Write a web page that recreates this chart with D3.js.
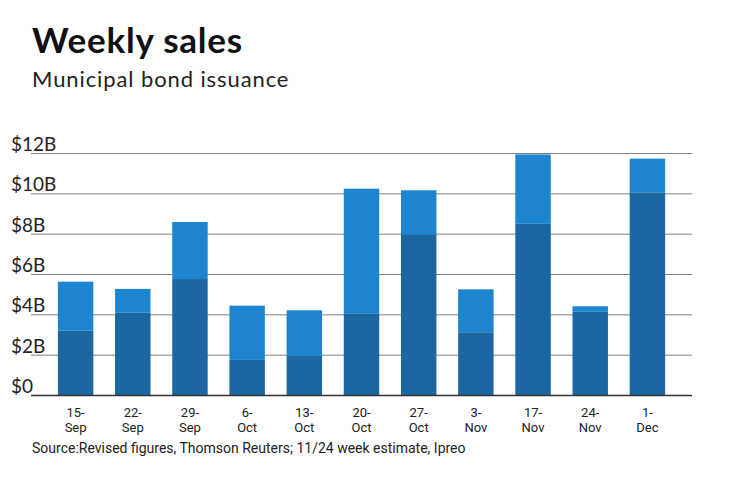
<!DOCTYPE html>
<html>
<head>
<meta charset="utf-8">
<script src="https://cdn.jsdelivr.net/npm/d3@7/dist/d3.min.js"></script>
<style>
  body { margin: 0; background: #fff; }
  svg { display: block; }
</style>
</head>
<body>
<div id="chart"></div>
<script>
// weekly muni issuance, $ billions
const weeks = ["15-Sep", "22-Sep", "29-Sep", "6-Oct", "13-Oct", "20-Oct", "27-Oct", "3-Nov", "17-Nov", "24-Nov", "1-Dec"];
const lowerPart = [3.19, 4.08, 5.75, 1.74, 1.95, 4.05, 7.97, 3.11, 8.49, 4.13, 10.05];
const weekTotal = [5.62, 5.26, 8.58, 4.43, 4.20, 10.23, 10.15, 5.24, 11.93, 4.40, 11.72];
const yTicks = [0, 2, 4, 6, 8, 10, 12];

const width = 740, height = 482;
const plotLeft = 31, plotRight = 692, plotTop = 153, plotBottom = 395;

const svg = d3.select("#chart").append("svg")
    .attr("width", width)
    .attr("height", height);

// titles
svg.append("text")
    .text("Weekly sales")
    .attr("x", 32).attr("y", 53)
    .attr("font-family", "Lato, sans-serif")
    .attr("font-weight", 700)
    .attr("font-size", 35)
    .attr("letter-spacing", 0.8)
    .attr("fill", "#111");

svg.append("text")
    .text("Municipal bond issuance")
    .attr("x", 32).attr("y", 87)
    .attr("font-family", "Lato, sans-serif")
    .attr("font-size", 22)
    .attr("letter-spacing", 0.9)
    .attr("fill", "#222");

const x = d3.scaleBand()
    .domain(weeks)
    .range([plotLeft, plotRight])
    .paddingInner(0.38)
    .paddingOuter(0.47);

const y = d3.scaleLinear()
    .domain([0, 12])
    .range([plotBottom, plotTop]);

// gridlines + y labels
const grid = svg.append("g");
grid.selectAll("line")
    .data(yTicks.filter(d => d > 0))
    .enter()
    .append("line")
    .attr("x1", plotLeft).attr("x2", plotRight)
    .attr("y1", d => y(d) + 0.5).attr("y2", d => y(d) + 0.5)
    .attr("stroke", "#808080")
    .attr("stroke-width", 1);

grid.selectAll("text")
    .data(yTicks)
    .enter()
    .append("text")
    .text(d => d === 0 ? "$0" : "$" + d + "B")
    .attr("x", 11)
    .attr("y", d => y(d) - 2)
    .attr("font-family", "Lato, sans-serif")
    .attr("font-size", 19)
    .attr("fill", "#222");

// stacked bars
const stacks = weeks.map((w, i) => ({week: w, low: lowerPart[i], total: weekTotal[i]}));

svg.append("g").selectAll("rect")
    .data(stacks)
    .enter()
    .append("rect")
    .attr("x", d => x(d.week))
    .attr("width", x.bandwidth())
    .attr("y", d => y(d.total))
    .attr("height", d => y(d.low) - y(d.total))
    .attr("fill", "#1d85d0");

svg.append("g").selectAll("rect")
    .data(stacks)
    .enter()
    .append("rect")
    .attr("x", d => x(d.week))
    .attr("width", x.bandwidth())
    .attr("y", d => y(d.low))
    .attr("height", d => y(0) - y(d.low))
    .attr("fill", "#1b67a2");

// baseline
svg.append("line")
    .attr("x1", plotLeft).attr("x2", plotRight)
    .attr("y1", plotBottom + 0.5).attr("y2", plotBottom + 0.5)
    .attr("stroke", "#333")
    .attr("stroke-width", 1.5);

// x labels, two lines each
const xl = svg.append("g").selectAll("text")
    .data(weeks)
    .enter()
    .append("text")
    .attr("text-anchor", "middle")
    .attr("font-family", "'Liberation Sans Narrow', Roboto, sans-serif")
    .attr("font-size", 13)
    .attr("fill", "#222");
xl.append("tspan")
    .attr("x", d => x(d) + x.bandwidth() / 2)
    .attr("y", 417)
    .text(d => d.split("-")[0] + "-");
xl.append("tspan")
    .attr("x", d => x(d) + x.bandwidth() / 2)
    .attr("y", 431.5)
    .text(d => d.split("-")[1]);

svg.append("text")
    .text("Source:Revised figures, Thomson Reuters; 11/24 week estimate, Ipreo")
    .attr("x", 32).attr("y", 453)
    .attr("font-family", "'Liberation Sans Narrow', Roboto, sans-serif")
    .attr("font-size", 14)
    .attr("fill", "#222");
</script>
</body>
</html>
